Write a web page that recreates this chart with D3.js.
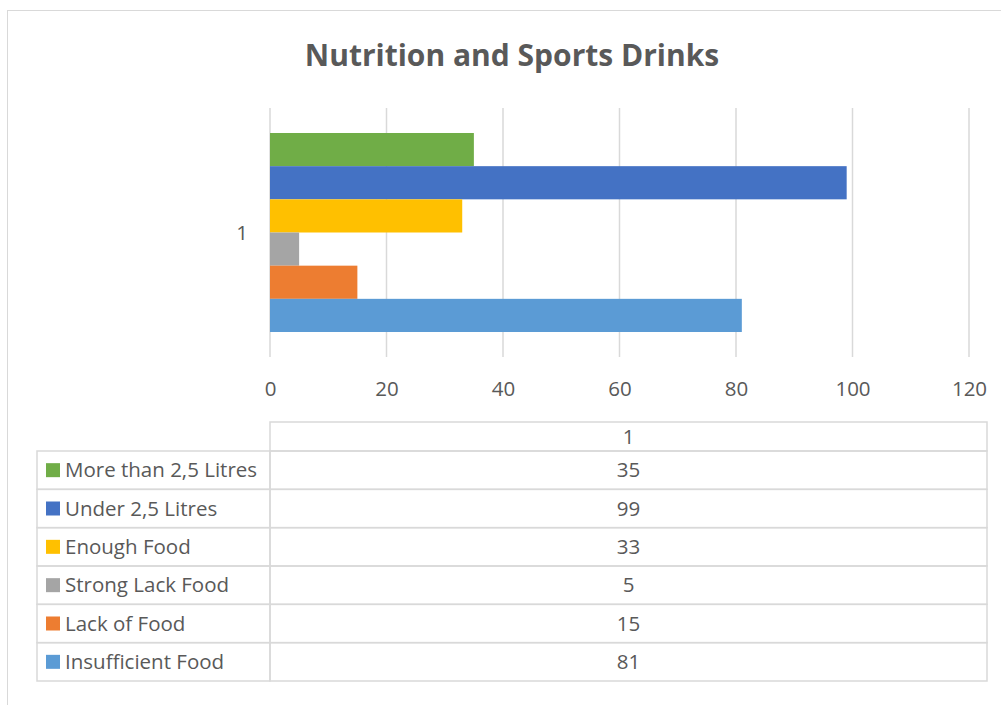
<!DOCTYPE html>
<html>
<head>
<meta charset="utf-8">
<script src="https://cdn.jsdelivr.net/npm/d3@7"></script>
<style>
  body { margin: 0; background: #fff; }
  svg text { font-family: "Open Sans", "Liberation Sans", sans-serif; fill: #595959; }
</style>
</head>
<body>
<svg id="chart" width="1001" height="705"></svg>
<script>
// table order, top to bottom
var seriesNames = ["More than 2,5 Litres", "Under 2,5 Litres", "Enough Food",
                   "Strong Lack Food", "Lack of Food", "Insufficient Food"];
var seriesValues = [35, 99, 33, 5, 15, 81];
var seriesColors = ["#70AD47", "#4472C4", "#FFC000", "#A5A5A5", "#ED7D31", "#5B9BD5"];
var categories = ["1"];
var xTicks = [0, 20, 40, 60, 80, 100, 120];

var svg = d3.select("#chart");
var fs = 20.5;

// outer chart frame (runs off the right and bottom edges)
svg.append("rect")
    .attr("x", 7.5).attr("y", 10.5)
    .attr("width", 1100).attr("height", 800)
    .attr("fill", "#fff")
    .attr("stroke", "#d9d9d9").attr("stroke-width", 1);

svg.append("text")
    .attr("x", 512).attr("y", 66)
    .attr("text-anchor", "middle")
    .attr("font-size", 30).attr("font-weight", "bold")
    .text("Nutrition and Sports Drinks");

var plotTop = 108, plotBottom = 357;
var x = d3.scaleLinear().domain([0, 120]).range([270, 969]);

var yOuter = d3.scaleBand().domain(categories)
    .range([plotTop, plotBottom])
    .paddingInner(0).paddingOuter(0.1256);
var yInner = d3.scaleBand().domain(seriesNames)
    .range([0, yOuter.bandwidth()]);

// gridlines
svg.append("g").selectAll("line")
    .data(xTicks)
    .join("line")
    .attr("x1", function(d) { return x(d); })
    .attr("x2", function(d) { return x(d); })
    .attr("y1", plotTop).attr("y2", plotBottom)
    .attr("stroke", "#d9d9d9").attr("stroke-width", 1.5);

// bars
categories.forEach(function(cat) {
    svg.append("g").selectAll("rect")
        .data(seriesNames)
        .join("rect")
        .attr("x", x(0))
        .attr("y", function(d) { return yOuter(cat) + yInner(d); })
        .attr("width", function(d, i) { return x(seriesValues[i]) - x(0); })
        .attr("height", yInner.bandwidth())
        .attr("fill", function(d, i) { return seriesColors[i]; });
});

// category label
svg.append("text")
    .attr("x", 242).attr("y", yOuter("1") + yOuter.bandwidth() / 2)
    .attr("dy", "0.35em")
    .attr("text-anchor", "middle")
    .attr("font-size", fs)
    .text("1");

// x axis tick labels
var xAxis = d3.axisBottom(x).tickValues(xTicks).tickSize(0).tickPadding(0);
var gx = svg.append("g")
    .attr("transform", "translate(0," + 389 + ")")
    .call(xAxis);
gx.select(".domain").remove();
gx.selectAll("text")
    .attr("dy", "0.35em")
    .attr("font-size", fs)
    .attr("font-family", null)
    .attr("fill", null);

// data table
var tblLeft = 37, tblMid = 270, tblRight = 987;
var headTop = 422, rowsTop = 451, rowH = (681 - 451) / seriesNames.length;
var border = "#d9d9d9";
var tbl = svg.append("g");

tbl.append("rect")
    .attr("x", tblMid).attr("y", headTop)
    .attr("width", tblRight - tblMid).attr("height", rowsTop - headTop)
    .attr("fill", "none").attr("stroke", border).attr("stroke-width", 1.5);
tbl.append("text")
    .attr("x", (tblMid + tblRight) / 2).attr("y", (headTop + rowsTop) / 2)
    .attr("dy", "0.35em").attr("text-anchor", "middle")
    .attr("font-size", fs)
    .text(categories[0]);

var rows = tbl.selectAll("g.row")
    .data(seriesNames)
    .join("g")
    .attr("class", "row")
    .attr("transform", function(d, i) { return "translate(0," + (rowsTop + i * rowH) + ")"; });

rows.append("rect")
    .attr("x", tblLeft).attr("width", tblMid - tblLeft).attr("height", rowH)
    .attr("fill", "none").attr("stroke", border).attr("stroke-width", 1.5);
rows.append("rect")
    .attr("x", tblMid).attr("width", tblRight - tblMid).attr("height", rowH)
    .attr("fill", "none").attr("stroke", border).attr("stroke-width", 1.5);
rows.append("rect")
    .attr("x", 46).attr("y", rowH / 2 - 7)
    .attr("width", 14).attr("height", 14)
    .attr("fill", function(d, i) { return seriesColors[i]; });
rows.append("text")
    .attr("x", 65).attr("y", rowH / 2).attr("dy", "0.35em")
    .attr("font-size", fs)
    .text(function(d) { return d; });
rows.append("text")
    .attr("x", (tblMid + tblRight) / 2).attr("y", rowH / 2).attr("dy", "0.35em")
    .attr("text-anchor", "middle")
    .attr("font-size", fs)
    .text(function(d, i) { return seriesValues[i]; });
</script>
</body>
</html>
